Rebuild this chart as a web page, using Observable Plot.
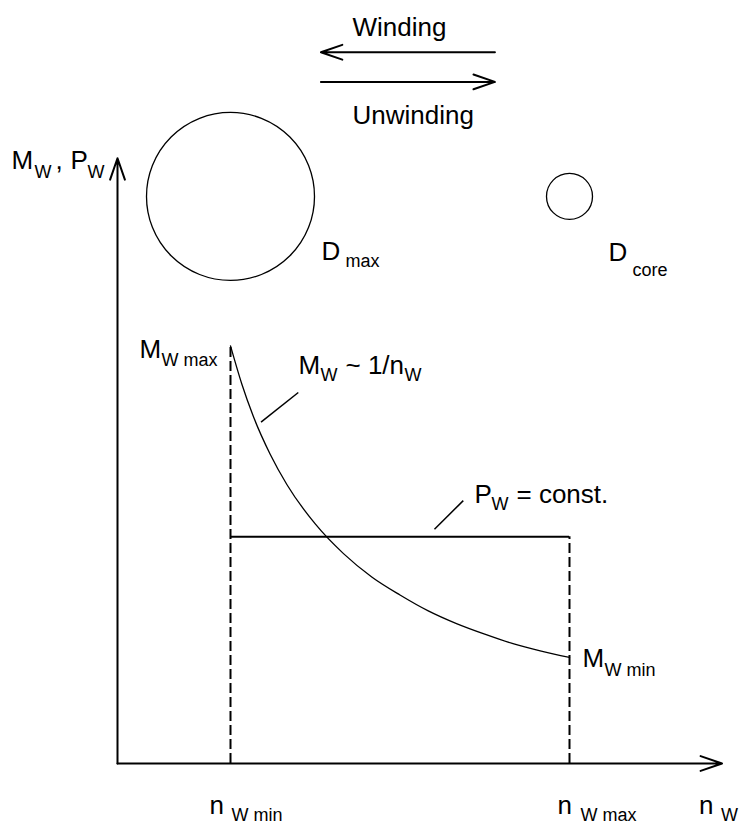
<!DOCTYPE html>
<html>
<head>
<meta charset="utf-8">
<script src="https://cdn.jsdelivr.net/npm/d3@7"></script>
<script src="https://cdn.jsdelivr.net/npm/@observablehq/plot@0.6"></script>
<style>
  html, body { margin: 0; padding: 0; background: #fff; }
  #chart svg { display: block; }
</style>
</head>
<body>
<div id="chart"></div>
<script>
// Winding speed (x, relative units) and torque curve M_W ~ 1/n_W
const nCurve = [1.0, 1.1, 1.2, 1.35, 1.5, 1.75, 2.0, 2.25, 2.5, 2.75, 3.0, 3.25, 3.5, 3.75, 4.0];
const mCurve = [3.94, 3.58, 3.28, 2.92, 2.63, 2.26, 1.98, 1.76, 1.59, 1.44, 1.32, 1.22, 1.13, 1.06, 1.0];
// Key values
const nMin = 1.0, nMax = 4.0;
const mMax = 3.94, mMin = 1.0;
const pConst = 2.14;
// Axis extents and diagram elements
const xEnd = 5.35, yEnd = 5.71;
const circleY = 5.35;          // level of the roll drawings
const windY = 6.71, unwindY = 6.43, arrowX1 = 1.8, arrowX2 = 3.34;

const curve = nCurve.map((n, i) => ({n, m: mCurve[i]}));

const FONT = "Liberation Sans, Arial, Helvetica, sans-serif";
const BIG = 26, SUB = 18;
function txt(x, y, s, dx, dy, size) {
  return Plot.text([s], {x, y, text: d => d, dx, dy, fontSize: size,
    textAnchor: "start", lineAnchor: "bottom", fill: "black"});
}
function ftxt(s, dx, dy, size) {
  return Plot.text([s], {frameAnchor: "top-left", text: d => d, dx, dy, fontSize: size,
    textAnchor: "start", lineAnchor: "bottom", fill: "black"});
}

const chart = Plot.plot({
  width: 740,
  height: 825,
  margin: 0,
  style: {fontFamily: FONT, background: "white", color: "black"},
  x: {domain: [0, 6], range: [117, 117 + 6 * 113], axis: null},
  y: {domain: [0, 7], range: [763, 763 - 7 * 106], axis: null},
  marks: [
    // axes
    Plot.arrow([0], {x1: 0, y1: 0, x2: xEnd, y2: 0, stroke: "black", strokeWidth: 2, headLength: 17, headAngle: 38}),
    Plot.arrow([0], {x1: 0, y1: 0, x2: 0, y2: yEnd, stroke: "black", strokeWidth: 2, headLength: 17, headAngle: 38}),
    // dashed limits
    Plot.ruleX([nMin], {y1: 0, y2: mMax, stroke: "black", strokeWidth: 2, strokeDasharray: "10,4"}),
    Plot.ruleX([nMax], {y1: 0, y2: pConst, stroke: "black", strokeWidth: 2, strokeDasharray: "10,4"}),
    // constant power
    Plot.ruleY([pConst], {x1: nMin, x2: nMax, stroke: "black", strokeWidth: 2}),
    // torque curve
    Plot.line(curve, {x: "n", y: "m", curve: "monotone-x", stroke: "black", strokeWidth: 1.3}),
    // leader lines
    Plot.link([0], {x1: 1.27, y1: 3.22, x2: 1.6, y2: 3.5, stroke: "black", strokeWidth: 1.5}),
    Plot.link([0], {x1: 2.805, y1: 2.21, x2: 3.06, y2: 2.48, stroke: "black", strokeWidth: 1.5}),
    // rolls
    Plot.dot([0], {x: nMin, y: circleY, r: 84, stroke: "black", strokeWidth: 1.3, fill: "none"}),
    Plot.dot([0], {x: nMax, y: circleY, r: 23, stroke: "black", strokeWidth: 1.3, fill: "none"}),
    // winding / unwinding arrows
    Plot.arrow([0], {x1: arrowX2, y1: windY, x2: arrowX1, y2: windY, stroke: "black", strokeWidth: 2, headLength: 17, headAngle: 38}),
    Plot.arrow([0], {x1: arrowX1, y1: unwindY, x2: arrowX2, y2: unwindY, stroke: "black", strokeWidth: 2, headLength: 17, headAngle: 38}),
    ftxt("Winding", 352, 35, BIG),
    ftxt("Unwinding", 352, 123, BIG),
    // y axis title
    ftxt("M", 11, 168, BIG),
    ftxt("W", 34, 177, SUB),
    ftxt(",", 55, 168, BIG),
    ftxt("P", 70, 168, BIG),
    ftxt("W", 87, 177, SUB),
    // roll labels
    ftxt("D", 321, 259, BIG),
    ftxt("max", 345, 266, SUB),
    ftxt("D", 608, 260, BIG),
    ftxt("core", 632, 275, SUB),
    // curve labels
    txt(0, mMax, "M", 22, 12, BIG),
    txt(0, mMax, "W max", 44, 20, SUB),
    ftxt("M", 298, 373, BIG),
    ftxt("W", 320, 380, SUB),
    ftxt("~ 1/n", 345, 373, BIG),
    ftxt("W", 404, 380, SUB),
    ftxt("P", 474, 502, BIG),
    ftxt("W", 491, 509, SUB),
    ftxt("= const.", 516, 502, BIG),
    txt(nMax, mMin, "M", 13, 9, BIG),
    txt(nMax, mMin, "W min", 35, 18, SUB),
    // x tick-like labels
    txt(nMin, 0, "n", -21, 50, BIG),
    txt(nMin, 0, "W min", 1, 57, SUB),
    txt(nMax, 0, "n", -12, 50, BIG),
    txt(nMax, 0, "W max", 11, 57, SUB),
    txt(xEnd, 0, "n", -23, 50, BIG),
    txt(xEnd, 0, "W", -1, 57, SUB)
  ]
});
document.getElementById("chart").appendChild(chart);
</script>
</body>
</html>
